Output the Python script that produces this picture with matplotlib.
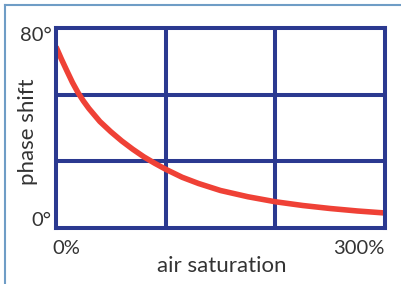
import matplotlib
matplotlib.use("Agg")
import matplotlib.pyplot as plt
from matplotlib.lines import Line2D

# Data
air_saturation = [0, 5, 10, 15, 20, 25, 30, 40, 50, 60, 70, 80, 90, 100, 115, 130, 150, 175, 200, 225, 250, 275, 300]
phase_shift = [72.5, 67.5, 62.8, 58.2, 54.2, 50.8, 47.8, 42.6, 38.5, 34.8, 31.5, 28.5, 25.9, 23.5, 20.3, 17.8, 15, 12.5, 10.5, 9, 7.8, 6.8, 6]
x_grid = [100, 200]
y_grid = [80 / 3, 160 / 3]
x_labels = {0: "0%", 300: "300%"}
y_labels = {0: "0°", 80: "80°"}

blue = "#2B3990"
red = "#EF4136"
txt = "#333333"

plt.rcParams['font.family'] = ['Lato', 'DejaVu Sans']

fig = plt.figure(figsize=(4.02, 2.84), dpi=100)
ax = fig.add_axes([56 / 402, 1 - 228 / 284, (385 - 56) / 402, (228 - 28) / 284])
ax.set_xlim(0, 300)
ax.set_ylim(0, 80)

for xv in x_grid:
    ax.axvline(xv, color=blue, lw=2.9, zorder=1)
for yv in y_grid:
    ax.axhline(yv, color=blue, lw=2.9, zorder=1)

ax.plot(air_saturation, phase_shift, color=red, lw=4.0, solid_capstyle='butt',
        solid_joinstyle='round', zorder=3)

for s in ax.spines.values():
    s.set_color(blue)
    s.set_linewidth(2.9)
    s.set_zorder(4)
ax.set_xticks([])
ax.set_yticks([])

fs_tick = 14.5
ax.text(-3.5, -5, x_labels[0], ha='left', va='top', fontsize=fs_tick, color=txt)
ax.text(300, -5, x_labels[300], ha='right', va='top', fontsize=fs_tick, color=txt)
ax.text(-4, 80.5, y_labels[80], ha='right', va='top', fontsize=fs_tick, color=txt)
ax.text(-4, -0.5, y_labels[0], ha='right', va='bottom', fontsize=fs_tick, color=txt)

fig.text(222 / 402, 1 - 266 / 284, "air saturation", ha='center', va='center', fontsize=16, color=txt)
fig.text(28 / 402, 1 - 132 / 284, "phase shift", ha='center', va='center', rotation=90, fontsize=16, color=txt)

# outer border lines (top and left)
bc = "#6F9DC6"
fig.add_artist(Line2D([5 / 402, 1], [1 - 5 / 284, 1 - 5 / 284], color=bc, lw=1.5, transform=fig.transFigure))
fig.add_artist(Line2D([5 / 402, 5 / 402], [0, 1 - 5 / 284], color=bc, lw=1.5, transform=fig.transFigure))

fig.savefig("out.png", dpi=100)
